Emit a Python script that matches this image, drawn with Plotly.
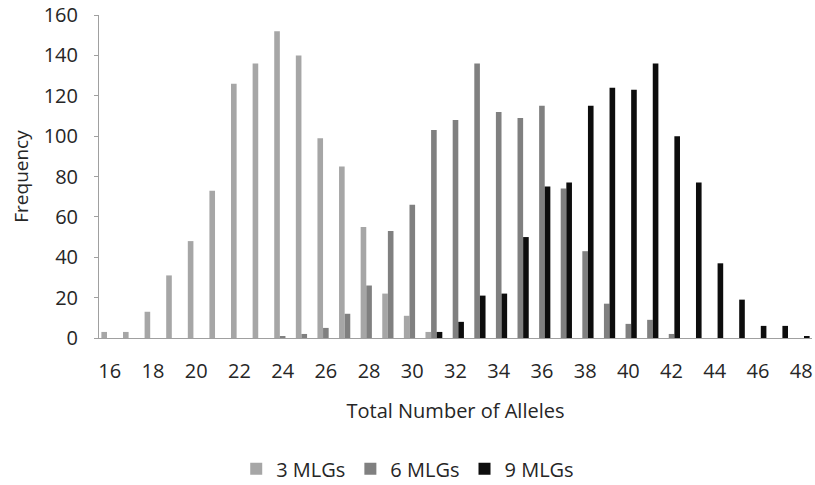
import plotly.graph_objects as go

alleles = [str(v) for v in range(16, 49)]
tick_labels = [str(v) for v in range(16, 49, 2)]

mlg3 = [3, 3, 13, 31, 48, 73, 126, 136, 152, 140, 99, 85, 55, 22, 11, 3, 0,
        0, 0, 0, 0, 0, 0, 0, 0, 0, 0, 0, 0, 0, 0, 0, 0]
mlg6 = [0, 0, 0, 0, 0, 0, 0, 0, 1, 2, 5, 12, 26, 53, 66, 103, 108,
        136, 112, 109, 115, 74, 43, 17, 7, 9, 2, 0, 0, 0, 0, 0, 0]
mlg9 = [0, 0, 0, 0, 0, 0, 0, 0, 0, 0, 0, 0, 0, 0, 0, 3, 8,
        21, 22, 50, 75, 77, 115, 124, 123, 136, 100, 77, 37, 19, 6, 6, 1]

series = [("3 MLGs", mlg3, "#A6A6A6"), ("6 MLGs", mlg6, "#808080"), ("9 MLGs", mlg9, "#0D0D0D")]

fig = go.Figure()
for name, vals, col in series:
    fig.add_trace(go.Bar(x=alleles, y=vals, name=name, marker=dict(color=col, line=dict(width=0))))

font = dict(family="Open Sans, Liberation Sans, sans-serif", size=18, color="#262626")

fig.update_layout(
    width=815, height=485,
    margin=dict(l=99, r=3, t=15, b=147, autoexpand=False),
    paper_bgcolor="white", plot_bgcolor="white",
    barmode="group", bargap=0.22, bargroupgap=0,
    font=font,
    showlegend=True,
    legend=dict(orientation="h", x=0.433, xanchor="center", y=-0.405, yanchor="middle",
                font=dict(size=20), itemwidth=30, traceorder="normal"),
    xaxis=dict(type="category", tickmode="array", tickvals=tick_labels, ticktext=tick_labels,
               showline=True, linecolor="#A0A0A0", linewidth=1, ticks="", showgrid=False,
               ticklabelstandoff=15,
               title=dict(text="Total Number of Alleles", standoff=20, font=dict(size=20)),
               tickfont=dict(size=20)),
    yaxis=dict(range=[0, 160], dtick=20, showline=True, linecolor="#A0A0A0", linewidth=1,
               ticks="outside", ticklen=4, tickcolor="#A0A0A0", showgrid=False, zeroline=False,
               ticklabelstandoff=12,
               title=dict(text="Frequency", standoff=10, font=dict(size=19)),
               tickfont=dict(size=20)),
)

fig.write_html("out.html")
